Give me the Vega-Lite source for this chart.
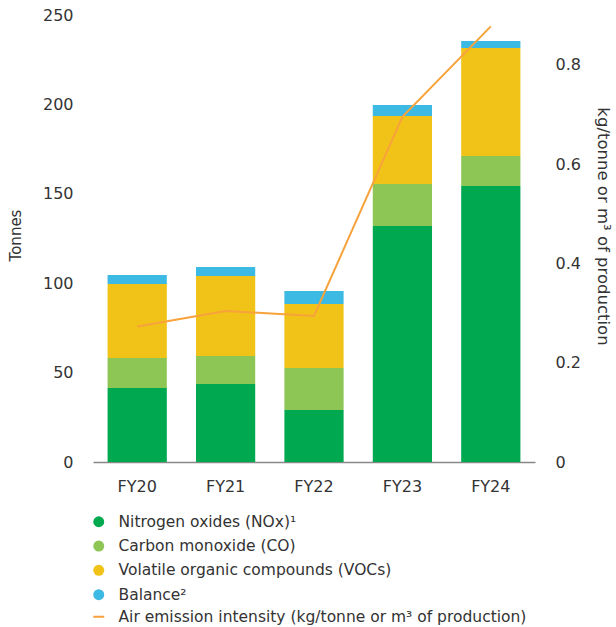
{
  "$schema": "https://vega.github.io/schema/vega-lite/v6.json",
  "width": 442,
  "height": 447,
  "autosize": {"type": "none"},
  "padding": {"left": 93, "top": 15, "right": 81, "bottom": 165},
  "config": {
    "font": "DejaVu Sans",
    "view": {"stroke": null},
    "axis": {
      "labelFontSize": 16,
      "labelColor": "#333333",
      "titleFontSize": 16,
      "titleFontWeight": "normal",
      "titleColor": "#333333",
      "grid": false,
      "ticks": false,
      "domain": false
    },
    "legend": {
      "labelFontSize": 15.5,
      "labelColor": "#333333",
      "labelLimit": 0,
      "padding": 0,
      "rowPadding": 7.3,
      "labelOffset": 12
    }
  },
  "datasets": {
    "emissions": [
      {"year": "FY20", "component": "Nitrogen oxides (NOx)¹", "rank": 1, "tonnes": 41.4},
      {"year": "FY20", "component": "Carbon monoxide (CO)", "rank": 2, "tonnes": 16.8},
      {"year": "FY20", "component": "Volatile organic compounds (VOCs)", "rank": 3, "tonnes": 41.4},
      {"year": "FY20", "component": "Balance²", "rank": 4, "tonnes": 5.0},
      {"year": "FY21", "component": "Nitrogen oxides (NOx)¹", "rank": 1, "tonnes": 43.6},
      {"year": "FY21", "component": "Carbon monoxide (CO)", "rank": 2, "tonnes": 15.7},
      {"year": "FY21", "component": "Volatile organic compounds (VOCs)", "rank": 3, "tonnes": 44.7},
      {"year": "FY21", "component": "Balance²", "rank": 4, "tonnes": 5.1},
      {"year": "FY22", "component": "Nitrogen oxides (NOx)¹", "rank": 1, "tonnes": 29.1},
      {"year": "FY22", "component": "Carbon monoxide (CO)", "rank": 2, "tonnes": 23.5},
      {"year": "FY22", "component": "Volatile organic compounds (VOCs)", "rank": 3, "tonnes": 35.8},
      {"year": "FY22", "component": "Balance²", "rank": 4, "tonnes": 7.2},
      {"year": "FY23", "component": "Nitrogen oxides (NOx)¹", "rank": 1, "tonnes": 132.0},
      {"year": "FY23", "component": "Carbon monoxide (CO)", "rank": 2, "tonnes": 23.5},
      {"year": "FY23", "component": "Volatile organic compounds (VOCs)", "rank": 3, "tonnes": 38.0},
      {"year": "FY23", "component": "Balance²", "rank": 4, "tonnes": 6.2},
      {"year": "FY24", "component": "Nitrogen oxides (NOx)¹", "rank": 1, "tonnes": 154.4},
      {"year": "FY24", "component": "Carbon monoxide (CO)", "rank": 2, "tonnes": 16.7},
      {"year": "FY24", "component": "Volatile organic compounds (VOCs)", "rank": 3, "tonnes": 60.4},
      {"year": "FY24", "component": "Balance²", "rank": 4, "tonnes": 4.0}
    ],
    "intensity": [
      {"year": "FY20", "series": "Air emission intensity (kg/tonne or m³ of production)", "value": 0.273},
      {"year": "FY21", "series": "Air emission intensity (kg/tonne or m³ of production)", "value": 0.304},
      {"year": "FY22", "series": "Air emission intensity (kg/tonne or m³ of production)", "value": 0.294},
      {"year": "FY23", "series": "Air emission intensity (kg/tonne or m³ of production)", "value": 0.695},
      {"year": "FY24", "series": "Air emission intensity (kg/tonne or m³ of production)", "value": 0.877}
    ]
  },
  "layer": [
    {
      "data": {"name": "emissions"},
      "mark": {"type": "bar"},
      "encoding": {
        "x": {
          "field": "year",
          "type": "nominal",
          "scale": {"paddingInner": 0.33, "paddingOuter": 0.165},
          "axis": {
            "title": null,
            "labelAngle": 0,
            "labelPadding": 16,
            "domain": true,
            "domainColor": "#888888",
            "domainWidth": 1.5
          }
        },
        "y": {
          "field": "tonnes",
          "type": "quantitative",
          "aggregate": "sum",
          "stack": "zero",
          "scale": {"domain": [0, 250]},
          "axis": {
            "title": "Tonnes",
            "titleFontSize": 15,
            "titleY": 220,
            "values": [0, 50, 100, 150, 200, 250],
            "labelPadding": 20,
            "titlePadding": 19
          }
        },
        "fill": {
          "field": "component",
          "type": "nominal",
          "sort": ["Nitrogen oxides (NOx)¹", "Carbon monoxide (CO)", "Volatile organic compounds (VOCs)", "Balance²"],
          "scale": {
            "domain": ["Nitrogen oxides (NOx)¹", "Carbon monoxide (CO)", "Volatile organic compounds (VOCs)", "Balance²"],
            "range": ["#00a84f", "#8dc655", "#f1c319", "#3dbae3"]
          },
          "legend": {
            "title": null,
            "orient": "none",
            "legendX": -2,
            "legendY": 499,
            "symbolType": "circle",
            "symbolSize": 120,
            "symbolStrokeWidth": 0
          }
        },
        "order": {"field": "rank", "type": "quantitative", "sort": "ascending"}
      }
    },
    {
      "data": {"name": "intensity"},
      "mark": {"type": "line", "strokeWidth": 2},
      "encoding": {
        "x": {"field": "year", "type": "nominal"},
        "y": {
          "field": "value",
          "type": "quantitative",
          "scale": {"domain": [0, 0.9]},
          "axis": {
            "orient": "right",
            "title": "kg/tonne or m³ of production",
            "titleFontSize": 16.5,
            "titleY": 211,
            "values": [0, 0.2, 0.4, 0.6, 0.8],
            "labelExpr": "datum.value == 0 ? '0' : format(datum.value, '.1f')",
            "labelPadding": 20,
            "titlePadding": 14
          }
        },
        "stroke": {
          "field": "series",
          "type": "nominal",
          "scale": {"range": ["#f7a23b"]},
          "legend": {
            "title": null,
            "orient": "none",
            "legendX": -2,
            "legendY": 594,
            "symbolType": "stroke",
            "symbolSize": 121,
            "symbolStrokeWidth": 2
          }
        }
      }
    }
  ],
  "resolve": {"scale": {"y": "independent"}}
}
